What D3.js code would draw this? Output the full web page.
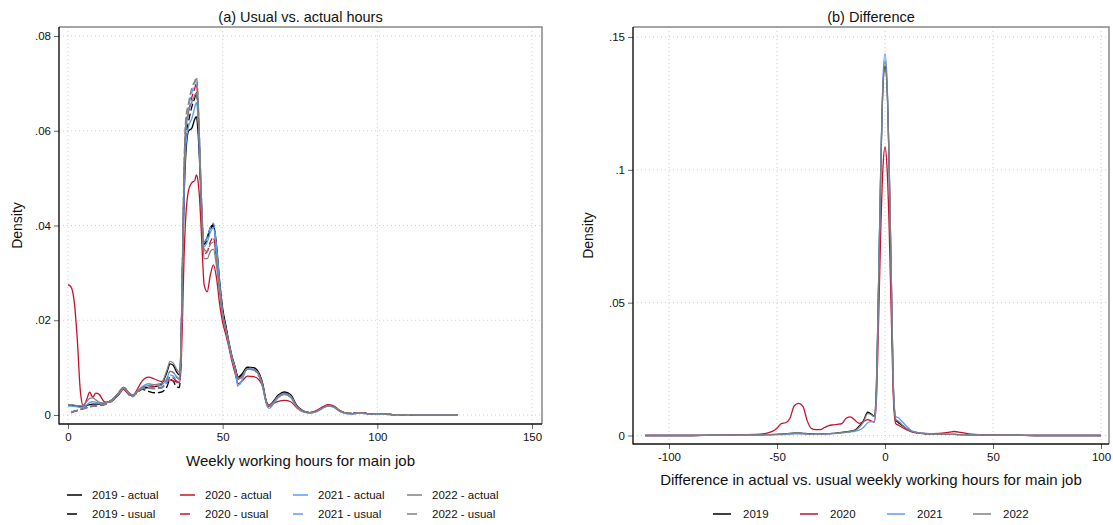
<!DOCTYPE html>
<html>
<head>
<meta charset="utf-8">
<script src="https://cdn.jsdelivr.net/npm/d3@7"></script>
<style>
  body { margin: 0; background: #fff; }
  svg { display: block; font-family: 'Liberation Sans', Arial, Helvetica, sans-serif; }
</style>
</head>
<body>
<svg id="chart" width="1113" height="525"></svg>
<script>
// ---- data: panel (a), density of weekly hours ----
const hoursGrid = [
  0, 1, 2, 3, 4, 5, 6, 7, 8, 9,
  10, 12, 14, 16, 18, 20, 21, 22, 24, 26,
  28, 30, 32, 33, 34, 35, 36, 36.5, 37, 37.5,
  38, 39, 40, 41, 41.5, 42, 42.5, 43, 43.5, 44,
  45, 46, 47, 48, 49, 50, 51, 52, 53, 54,
  55, 56, 58, 60, 62, 63, 64, 65, 66, 68,
  70, 72, 74, 76, 78, 80, 82, 84, 86, 88,
  90, 92, 94, 96, 98, 100, 105, 110, 115, 120,
  126]

const actual2019 = [
  0.0021, 0.0021, 0.0020, 0.0019, 0.0018, 0.0018, 0.0020, 0.0022, 0.0023, 0.0023,
  0.0023, 0.0025, 0.0031, 0.0044, 0.0058, 0.0045, 0.0042, 0.0047, 0.0056, 0.0058,
  0.0060, 0.0064, 0.0090, 0.0108, 0.0105, 0.0092, 0.0085, 0.0140, 0.0300, 0.0450,
  0.0540, 0.0600, 0.0605, 0.0625, 0.0630, 0.0600, 0.0540, 0.0460, 0.0390, 0.0365,
  0.0375, 0.0395, 0.0402, 0.0360, 0.0285, 0.0225, 0.0190, 0.0155, 0.0125, 0.0102,
  0.0080, 0.0085, 0.0101, 0.0100, 0.0085, 0.0065, 0.0032, 0.0020, 0.0026, 0.0042,
  0.0049, 0.0043, 0.0020, 0.0009, 0.0005, 0.0007, 0.0014, 0.0020, 0.0017, 0.0008,
  0.0004, 0.0003, 0.0005, 0.0004, 0.0002, 0.0003, 0.0001, 0.0001, 0, 0,
  0]
const usual2019 = [
  null, 0.0005, 0.0008, 0.0010, 0.0012, 0.0014, 0.0016, 0.0018, 0.0019, 0.0020,
  0.0021, 0.0023, 0.0029, 0.0042, 0.0056, 0.0043, 0.0040, 0.0045, 0.0054, 0.0050,
  0.0047, 0.0048, 0.0060, 0.0075, 0.0072, 0.0060, 0.0058, 0.0120, 0.0300, 0.0480,
  0.0580, 0.0620, 0.0650, 0.0670, 0.0682, 0.0640, 0.0560, 0.0470, 0.0390, 0.0360,
  0.0370, 0.0390, 0.0400, 0.0350, 0.0275, 0.0215, 0.0185, 0.0150, 0.0122, 0.0100,
  0.0078, 0.0082, 0.0100, 0.0098, 0.0080, 0.0060, 0.0030, 0.0018, 0.0024, 0.0041,
  0.0047, 0.0040, 0.0018, 0.0008, 0.0005, 0.0007, 0.0014, 0.0020, 0.0017, 0.0008,
  0.0004, 0.0003, 0.0005, 0.0004, 0.0002, 0.0003, 0.0001, 0.0001, 0, 0,
  0]
const actual2020 = [
  0.0275, 0.0270, 0.0240, 0.0160, 0.0050, 0.0018, 0.0032, 0.0048, 0.0038, 0.0046,
  0.0044, 0.0027, 0.0030, 0.0040, 0.0054, 0.0042, 0.0041, 0.0050, 0.0072, 0.0080,
  0.0076, 0.0071, 0.0073, 0.0074, 0.0072, 0.0070, 0.0068, 0.0095, 0.0200, 0.0330,
  0.0410, 0.0475, 0.0490, 0.0495, 0.0507, 0.0495, 0.0460, 0.0400, 0.0330, 0.0275,
  0.0260, 0.0295, 0.0317, 0.0290, 0.0235, 0.0195, 0.0170, 0.0143, 0.0113, 0.0088,
  0.0066, 0.0070, 0.0082, 0.0081, 0.0072, 0.0058, 0.0030, 0.0021, 0.0023, 0.0029,
  0.0031, 0.0028, 0.0015, 0.0007, 0.0005, 0.0008, 0.0016, 0.0022, 0.0019, 0.0009,
  0.0004, 0.0003, 0.0005, 0.0004, 0.0002, 0.0003, 0.0001, 0.0001, 0, 0,
  0]
const usual2020 = [
  null, 0.0005, 0.0007, 0.0009, 0.0011, 0.0013, 0.0015, 0.0017, 0.0018, 0.0019,
  0.0020, 0.0022, 0.0028, 0.0040, 0.0053, 0.0041, 0.0039, 0.0046, 0.0058, 0.0062,
  0.0060, 0.0058, 0.0068, 0.0080, 0.0078, 0.0072, 0.0070, 0.0130, 0.0320, 0.0500,
  0.0600, 0.0640, 0.0670, 0.0690, 0.0700, 0.0660, 0.0580, 0.0480, 0.0390, 0.0340,
  0.0345, 0.0365, 0.0375, 0.0330, 0.0265, 0.0210, 0.0180, 0.0148, 0.0120, 0.0098,
  0.0076, 0.0080, 0.0097, 0.0095, 0.0078, 0.0060, 0.0030, 0.0019, 0.0024, 0.0039,
  0.0045, 0.0039, 0.0018, 0.0008, 0.0005, 0.0008, 0.0015, 0.0021, 0.0018, 0.0009,
  0.0004, 0.0003, 0.0005, 0.0004, 0.0002, 0.0003, 0.0001, 0.0001, 0, 0,
  0]
const actual2021 = [
  0.0019, 0.0019, 0.0018, 0.0017, 0.0016, 0.0017, 0.0021, 0.0026, 0.0028, 0.0027,
  0.0025, 0.0025, 0.0031, 0.0043, 0.0057, 0.0044, 0.0042, 0.0048, 0.0060, 0.0066,
  0.0064, 0.0062, 0.0078, 0.0092, 0.0090, 0.0082, 0.0078, 0.0130, 0.0300, 0.0460,
  0.0560, 0.0610, 0.0625, 0.0650, 0.0660, 0.0630, 0.0555, 0.0470, 0.0390, 0.0355,
  0.0365, 0.0385, 0.0395, 0.0350, 0.0275, 0.0215, 0.0183, 0.0150, 0.0120, 0.0096,
  0.0062, 0.0070, 0.0098, 0.0096, 0.0080, 0.0058, 0.0026, 0.0014, 0.0020, 0.0037,
  0.0043, 0.0037, 0.0016, 0.0007, 0.0004, 0.0006, 0.0013, 0.0019, 0.0016, 0.0007,
  0.0003, 0.0002, 0.0004, 0.0003, 0.0002, 0.0002, 0.0001, 0.0001, 0, 0,
  0]
const usual2021 = [
  null, 0.0005, 0.0008, 0.0010, 0.0012, 0.0014, 0.0016, 0.0018, 0.0019, 0.0020,
  0.0021, 0.0023, 0.0029, 0.0042, 0.0055, 0.0042, 0.0039, 0.0046, 0.0056, 0.0058,
  0.0056, 0.0056, 0.0070, 0.0084, 0.0082, 0.0074, 0.0070, 0.0130, 0.0320, 0.0510,
  0.0610, 0.0650, 0.0680, 0.0700, 0.0710, 0.0670, 0.0585, 0.0485, 0.0400, 0.0365,
  0.0375, 0.0395, 0.0405, 0.0355, 0.0278, 0.0215, 0.0183, 0.0150, 0.0120, 0.0096,
  0.0060, 0.0070, 0.0099, 0.0097, 0.0080, 0.0058, 0.0026, 0.0014, 0.0020, 0.0038,
  0.0044, 0.0038, 0.0016, 0.0007, 0.0004, 0.0006, 0.0013, 0.0019, 0.0016, 0.0007,
  0.0003, 0.0002, 0.0004, 0.0003, 0.0002, 0.0002, 0.0001, 0.0001, 0, 0,
  0]
const actual2022 = [
  0.0022, 0.0022, 0.0021, 0.0020, 0.0019, 0.0021, 0.0028, 0.0035, 0.0036, 0.0032,
  0.0027, 0.0025, 0.0031, 0.0044, 0.0058, 0.0045, 0.0042, 0.0048, 0.0058, 0.0062,
  0.0064, 0.0066, 0.0095, 0.0113, 0.0110, 0.0098, 0.0090, 0.0145, 0.0320, 0.0490,
  0.0590, 0.0640, 0.0660, 0.0675, 0.0680, 0.0645, 0.0565, 0.0465, 0.0380, 0.0330,
  0.0330, 0.0345, 0.0350, 0.0315, 0.0260, 0.0210, 0.0180, 0.0150, 0.0122, 0.0099,
  0.0076, 0.0080, 0.0097, 0.0096, 0.0082, 0.0062, 0.0030, 0.0019, 0.0024, 0.0040,
  0.0046, 0.0040, 0.0018, 0.0008, 0.0005, 0.0007, 0.0014, 0.0020, 0.0017, 0.0008,
  0.0004, 0.0003, 0.0005, 0.0004, 0.0002, 0.0003, 0.0001, 0.0001, 0, 0,
  0]
const usual2022 = [
  null, 0.0006, 0.0008, 0.0010, 0.0012, 0.0014, 0.0016, 0.0018, 0.0019, 0.0020,
  0.0021, 0.0023, 0.0029, 0.0042, 0.0056, 0.0043, 0.0040, 0.0046, 0.0055, 0.0056,
  0.0055, 0.0057, 0.0075, 0.0092, 0.0090, 0.0080, 0.0075, 0.0135, 0.0330, 0.0520,
  0.0620, 0.0660, 0.0690, 0.0705, 0.0713, 0.0680, 0.0590, 0.0490, 0.0400, 0.0350,
  0.0345, 0.0360, 0.0365, 0.0330, 0.0270, 0.0212, 0.0182, 0.0150, 0.0121, 0.0098,
  0.0074, 0.0078, 0.0097, 0.0096, 0.0081, 0.0061, 0.0029, 0.0018, 0.0023, 0.0039,
  0.0045, 0.0039, 0.0017, 0.0008, 0.0005, 0.0007, 0.0014, 0.0020, 0.0017, 0.0008,
  0.0004, 0.0003, 0.0005, 0.0004, 0.0002, 0.0003, 0.0001, 0.0001, 0, 0,
  0]

// ---- data: panel (b), density of actual minus usual ----
const diffGrid = [
  -111, -100, -90, -80, -70, -65, -60, -55, -50, -48,
  -46, -44, -42, -40, -38, -36, -34, -32, -30, -28,
  -26, -24, -22, -20, -18, -16, -14, -12, -10, -8,
  -6, -5, -4, -3, -2, -1, 0, 1, 2, 3,
  4, 5, 6, 8, 10, 12, 15, 20, 25, 30,
  32, 35, 40, 50, 60, 70, 80, 90, 100]
const diff2019 = [
  0, 0, 0, 0.0001, 0.0001, 0.0002, 0.0002, 0.0003, 0.0004, 0.0005,
  0.0006, 0.0008, 0.0009, 0.0009, 0.0008, 0.0007, 0.0006, 0.0005, 0.0005, 0.0006,
  0.0007, 0.0008, 0.0010, 0.0012, 0.0014, 0.0016, 0.0020, 0.0035, 0.0055, 0.0088,
  0.0078, 0.0072, 0.018, 0.056, 0.098, 0.130, 0.139, 0.130, 0.098, 0.055,
  0.015, 0.0058, 0.0050, 0.0038, 0.0025, 0.0016, 0.0010, 0.0006, 0.0004, 0.0004,
  0.0004, 0.0003, 0.0002, 0.0001, 0.0001, 0, 0, 0, 0]
const diff2020 = [
  0, 0, 0, 0.0001, 0.0002, 0.0003, 0.0004, 0.0008, 0.0027, 0.0045,
  0.0048, 0.0065, 0.0112, 0.0121, 0.0110, 0.0055, 0.0026, 0.0022, 0.0022, 0.0030,
  0.0037, 0.0040, 0.0042, 0.0045, 0.0065, 0.0070, 0.0058, 0.0046, 0.0052, 0.0060,
  0.0053, 0.0050, 0.013, 0.042, 0.076, 0.100, 0.1086, 0.100, 0.076, 0.042,
  0.012, 0.0045, 0.0040, 0.0030, 0.0022, 0.0015, 0.0010, 0.0007, 0.0008, 0.0013,
  0.0015, 0.0012, 0.0005, 0.0002, 0.0001, 0, 0, 0, 0]
const diff2021 = [
  0, 0, 0, 0.0001, 0.0001, 0.0001, 0.0002, 0.0002, 0.0003, 0.0003,
  0.0004, 0.0005, 0.0006, 0.0006, 0.0006, 0.0005, 0.0004, 0.0004, 0.0004, 0.0005,
  0.0006, 0.0007, 0.0008, 0.0010, 0.0012, 0.0014, 0.0016, 0.0020, 0.0030, 0.0048,
  0.0052, 0.0052, 0.015, 0.055, 0.100, 0.133, 0.1437, 0.133, 0.100, 0.055,
  0.016, 0.0070, 0.0068, 0.0052, 0.0035, 0.0020, 0.0012, 0.0007, 0.0005, 0.0004,
  0.0004, 0.0003, 0.0002, 0.0001, 0.0001, 0, 0, 0, 0]
const diff2022 = [
  0, 0, 0, 0.0001, 0.0001, 0.0002, 0.0002, 0.0003, 0.0004, 0.0005,
  0.0006, 0.0007, 0.0008, 0.0008, 0.0007, 0.0006, 0.0005, 0.0005, 0.0005, 0.0006,
  0.0007, 0.0008, 0.0009, 0.0011, 0.0013, 0.0015, 0.0018, 0.0030, 0.0050, 0.0082,
  0.0076, 0.0070, 0.017, 0.056, 0.099, 0.131, 0.141, 0.131, 0.099, 0.056,
  0.015, 0.0060, 0.0055, 0.0040, 0.0026, 0.0017, 0.0011, 0.0006, 0.0004, 0.0004,
  0.0004, 0.0003, 0.0002, 0.0001, 0.0001, 0, 0, 0, 0]

const hoursTicksX = [0, 50, 100, 150]
const hoursTicksY = [0, 0.02, 0.04, 0.06, 0.08]
const diffTicksX = [-100, -50, 0, 50, 100]
const diffTicksY = [0, 0.05, 0.1, 0.15]

// ---- styles ----
const yearColor = { 2019: '#000000', 2020: '#c8102e', 2021: '#5b9cf7', 2022: '#808080' }
const usualDash = '7,3'

const leftSeries = [
  { label: '2019 - actual', year: 2019, usual: false, values: actual2019 },
  { label: '2020 - actual', year: 2020, usual: false, values: actual2020 },
  { label: '2021 - actual', year: 2021, usual: false, values: actual2021 },
  { label: '2022 - actual', year: 2022, usual: false, values: actual2022 },
  { label: '2019 - usual', year: 2019, usual: true, values: usual2019 },
  { label: '2020 - usual', year: 2020, usual: true, values: usual2020 },
  { label: '2021 - usual', year: 2021, usual: true, values: usual2021 },
  { label: '2022 - usual', year: 2022, usual: true, values: usual2022 }
]
const rightSeries = [
  { label: '2019', year: 2019, values: diff2019 },
  { label: '2020', year: 2020, values: diff2020 },
  { label: '2021', year: 2021, values: diff2021 },
  { label: '2022', year: 2022, values: diff2022 }
]

const svg = d3.select('#chart')
svg.append('rect').attr('width', 1113).attr('height', 525).attr('fill', '#fff')

// Stata style labels: .02, .1, -50 (plain hyphen)
const fmt = d => d === 0 ? '0' : String(+d.toFixed(2)).replace(/^0\./, '.').replace(/^-0\./, '-.')

function panel (opt) {
  const { frame, x, y, xTicks, yTicks, title, xLabel } = opt
  const g = svg.append('g')

  // grid
  g.append('g').selectAll('line').data(yTicks).join('line')
    .attr('x1', frame.l).attr('x2', frame.r)
    .attr('y1', d => y(d)).attr('y2', d => y(d))
    .attr('stroke', '#cfcfcf').attr('stroke-dasharray', '1,3')
  g.append('g').selectAll('line').data(xTicks).join('line')
    .attr('x1', d => x(d)).attr('x2', d => x(d))
    .attr('y1', frame.t).attr('y2', frame.b)
    .attr('stroke', '#cfcfcf').attr('stroke-dasharray', '1,3')

  // frame: top/right light, left/bottom as axes
  g.append('path')
    .attr('d', `M${frame.l},${frame.t}H${frame.r}V${frame.b}`)
    .attr('fill', 'none').attr('stroke', '#888').attr('stroke-width', 1.5)

  const yAxis = g.append('g').attr('transform', `translate(${frame.l},0)`)
    .call(d3.axisLeft(y).tickValues(yTicks).tickFormat(fmt).tickSize(5).tickPadding(3))
  const xAxis = g.append('g').attr('transform', `translate(0,${frame.b})`)
    .call(d3.axisBottom(x).tickValues(xTicks).tickFormat(fmt).tickSize(5).tickPadding(4))
  for (const ax of [yAxis, xAxis]) {
    ax.select('.domain').remove()
    ax.selectAll('.tick line').attr('stroke', '#666')
    ax.selectAll('.tick text').attr('fill', '#111')
      .style('font-size', '11.5px').style('font-family', 'Liberation Sans, Arial, sans-serif')
  }
  g.append('line').attr('x1', frame.l).attr('x2', frame.l)
    .attr('y1', frame.t).attr('y2', frame.b + 0.5).attr('stroke', '#111').attr('stroke-width', 1.4)
  g.append('line').attr('x1', frame.l).attr('x2', frame.r)
    .attr('y1', frame.b).attr('y2', frame.b).attr('stroke', '#111').attr('stroke-width', 1.4)

  g.append('text').attr('x', (frame.l + frame.r) / 2).attr('y', 22)
    .attr('text-anchor', 'middle').style('font-size', '14.5px').attr('fill', '#111')
    .text(title)
  g.append('text').attr('x', (frame.l + frame.r) / 2).attr('y', opt.xLabelY)
    .attr('text-anchor', 'middle').style('font-size', '15px').attr('fill', '#111')
    .text(xLabel)
  g.append('text')
    .attr('transform', `translate(${opt.yLabelX},${(frame.t + frame.b) / 2}) rotate(-90)`)
    .attr('text-anchor', 'middle').style('font-size', '14px').attr('fill', '#111')
    .text('Density')
  return g
}

// ---- panel (a) ----
const xA = d3.scaleLinear().domain([0, 150]).range([68, 532])
const yA = d3.scaleLinear().domain([0, 0.08]).range([415, 36])
const gA = panel({
  frame: { l: 59, r: 542, t: 27, b: 424 },
  x: xA, y: yA, xTicks: hoursTicksX, yTicks: hoursTicksY,
  title: '(a) Usual vs. actual hours',
  xLabel: 'Weekly working hours for main job',
  xLabelY: 466, yLabelX: 22
})
const lineA = d3.line()
  .defined(d => d[1] != null)
  .x(d => xA(d[0])).y(d => yA(d[1]))
  .curve(d3.curveMonotoneX)

const drawOrder = [0, 4, 1, 5, 2, 6, 3, 7]
gA.append('g').selectAll('path').data(drawOrder.map(i => leftSeries[i])).join('path')
  .attr('d', s => lineA(hoursGrid.map((h, i) => [h, s.values[i]])))
  .attr('fill', 'none')
  .attr('stroke', s => yearColor[s.year])
  .attr('stroke-width', 1.3)
  .attr('stroke-dasharray', s => s.usual ? usualDash : null)

// legend (a)
const legA = svg.append('g').style('font-size', '11.5px')
const legColX = [67, 180, 293, 407]
leftSeries.forEach((s, i) => {
  const col = i % 4
  const row = Math.floor(i / 4)
  const ly = 495 + row * 19
  legA.append('line')
    .attr('x1', legColX[col]).attr('x2', legColX[col] + 15)
    .attr('y1', ly).attr('y2', ly)
    .attr('stroke', yearColor[s.year]).attr('stroke-width', 1.5)
    .attr('stroke-dasharray', s.usual ? '10,6' : null)
  legA.append('text').attr('x', legColX[col] + 25).attr('y', ly + 4)
    .attr('fill', '#111').text(s.label)
})

// ---- panel (b) ----
const xB = d3.scaleLinear().domain([-100, 100]).range([669, 1101])
const yB = d3.scaleLinear().domain([0, 0.15]).range([435.5, 37])
const gB = panel({
  frame: { l: 633, r: 1109, t: 27, b: 444 },
  x: xB, y: yB, xTicks: diffTicksX, yTicks: diffTicksY,
  title: '(b) Difference',
  xLabel: 'Difference in actual vs. usual weekly working hours for main job',
  xLabelY: 485, yLabelX: 593
})
const lineB = d3.line()
  .x(d => xB(d[0])).y(d => yB(d[1]))
  .curve(d3.curveMonotoneX)
gB.append('g').selectAll('path').data(rightSeries).join('path')
  .attr('d', s => lineB(diffGrid.map((h, i) => [h, s.values[i]])))
  .attr('fill', 'none')
  .attr('stroke', s => yearColor[s.year])
  .attr('stroke-width', 1.3)

// legend (b)
const legB = svg.append('g').style('font-size', '11.5px')
const legBX = [713, 800, 887, 973]
rightSeries.forEach((s, i) => {
  legB.append('line')
    .attr('x1', legBX[i]).attr('x2', legBX[i] + 18)
    .attr('y1', 514).attr('y2', 514)
    .attr('stroke', yearColor[s.year]).attr('stroke-width', 1.5)
  legB.append('text').attr('x', legBX[i] + 30).attr('y', 518)
    .attr('fill', '#111').text(s.label)
})
</script>
</body>
</html>
